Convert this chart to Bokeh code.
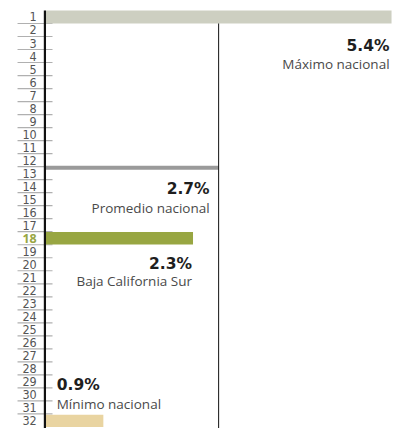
from bokeh.plotting import figure
from bokeh.models import Range1d, ColumnDataSource
from bokeh.core.properties import value
from bokeh.embed import file_html
from bokeh.resources import INLINE

# ---- data ----
rank_labels = ["1", "2", "3", "4", "5", "6", "7", "8", "9", "10", "11", "12", "13", "14", "15", "16",
               "17", "18", "19", "20", "21", "22", "23", "24", "25", "26", "27", "28", "29", "30", "31", "32"]
ranks = [1, 13, 18, 32]
values = [5.4, 2.7, 2.3, 0.9]
value_labels = ["5.4%", "2.7%", "2.3%", "0.9%"]
names = ["Máximo nacional", "Promedio nacional", "Baja California Sur", "Mínimo nacional"]
average = 2.7
highlight = "18"

# ---- styles / layout ----
bar_colors = ["#cdcfc1", "#9a9a9a", "#98a642", "#e9d4a1"]
bar_heights = [1.0, 0.3, 0.97, 0.95]
bar_shift = [0.0, -0.41, 0.0, 0.03]
txt_align = ["right", "right", "right", "left"]
txt_xoff = [-2, -9, -1, 11]
num_yoff = [29.5, 16, 26, -35]
lab_yoff = [47.5, 34.5, 42.5, -16.5]
OLIVE = "#98a642"

W, H = 392, 428
p = figure(width=W, height=H, x_range=Range1d(-0.706, 5.415), y_range=Range1d(32.62, -0.2656),
           output_backend="svg", toolbar_location=None, x_axis_location=None, y_axis_location=None,
           min_border=0, outline_line_color=None)
p.grid.visible = False
p.background_fill_color = "white"

n = len(rank_labels)
rank_pos = list(range(1, n + 1))

# underlines of rank labels
p.segment(x0=[-0.44] * (n - 1), x1=[0.106] * (n - 1),
          y0=[r + 0.5 for r in rank_pos[:-1]], y1=[r + 0.5 for r in rank_pos[:-1]],
          line_color="#b0b0b0", line_width=1.2)

# bars
src = ColumnDataSource(dict(
    y=[r + s for r, s in zip(ranks, bar_shift)], right=values, h=bar_heights, c=bar_colors))
p.hbar(y="y", left=0, right="right", height="h", fill_color="c", line_color=None, source=src)

# axis line and average line
p.segment(x0=[-0.0125], x1=[-0.0125], y0=[0.5], y1=[32.62], line_color="#111111", line_width=2.2)
p.segment(x0=[average], x1=[average], y0=[1.5], y1=[32.62], line_color="#111111", line_width=1)

# rank labels
normal = [l for l in rank_labels if l != highlight]
p.text(x=[0] * len(normal), y=[int(l) for l in normal], text=normal,
       text_align="right", text_baseline="middle", x_offset=-9, y_offset=0,
       text_font=value("Liberation Sans Narrow, DejaVu Sans Condensed, Open Sans"),
       text_font_size="12.5px", text_color="#555555")
p.text(x=[0], y=[int(highlight)], text=[highlight],
       text_align="right", text_baseline="middle", x_offset=-9, y_offset=0,
       text_font=value("Open Sans"), text_font_style="bold",
       text_font_size="12.5px", text_color=OLIVE)

# value labels
for i in range(len(ranks)):
    x = values[i] if txt_align[i] == "right" else 0
    p.text(x=[x], y=[ranks[i]], text=[value_labels[i]], text_align=txt_align[i],
           text_baseline="alphabetic", x_offset=txt_xoff[i], y_offset=num_yoff[i],
           text_font=value("DejaVu Sans"), text_font_style="bold",
           text_font_size="15.5px", text_color="#1e1e1e")
    p.text(x=[x], y=[ranks[i]], text=[names[i]], text_align=txt_align[i],
           text_baseline="alphabetic", x_offset=txt_xoff[i], y_offset=lab_yoff[i],
           text_font=value("Open Sans"),
           text_font_size="13.5px", text_color="#4a4a4a")

open("out.html", "w").write(file_html(p, INLINE))
